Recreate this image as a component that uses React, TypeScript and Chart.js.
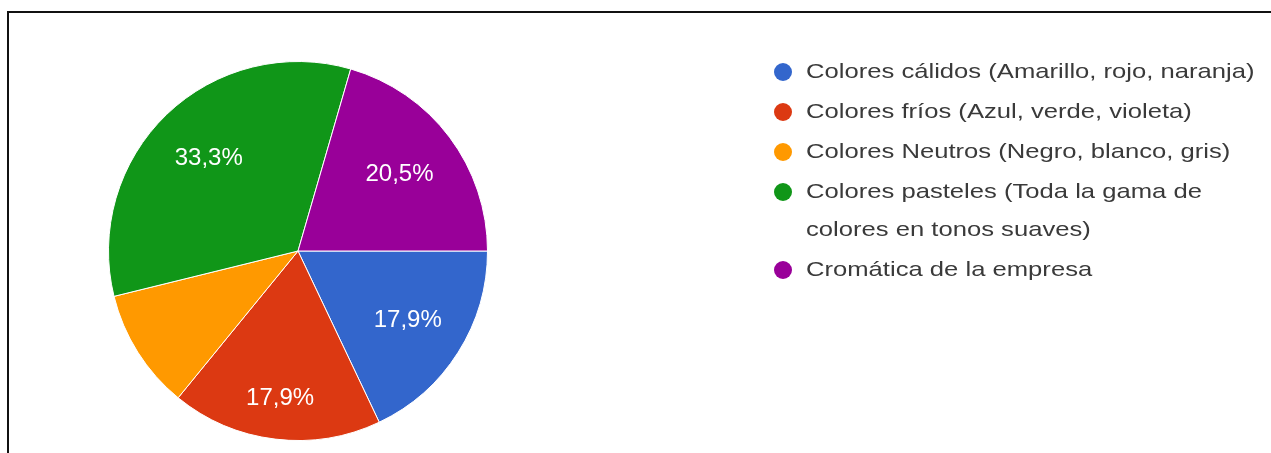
import React, { useEffect, useRef } from 'react';
import { Chart, registerables } from 'chart.js';

Chart.register(...registerables);

const categories = [
  'Colores cálidos (Amarillo, rojo, naranja)',
  'Colores fríos (Azul, verde, violeta)',
  'Colores Neutros (Negro, blanco, gris)',
  'Colores pasteles (Toda la gama de colores en tonos suaves)',
  'Cromática de la empresa',
];
const responses = [7, 7, 4, 13, 8];
const sliceColors = ['#3366cc', '#dc3912', '#ff9900', '#109618', '#990099'];

const FONT = '"Liberation Sans", Arial, sans-serif';
const LEGEND_SX = 1.22;

function pctText(v: number, total: number) {
  return ((v / total) * 100).toFixed(1).replace('.', ',') + '%';
}

function measure(ctx: CanvasRenderingContext2D, s: string) {
  return ctx.measureText(s).width * LEGEND_SX;
}

function drawWide(ctx: CanvasRenderingContext2D, s: string, x: number, y: number) {
  ctx.save();
  ctx.translate(x, y);
  ctx.scale(LEGEND_SX, 1);
  ctx.fillText(s, 0, 0);
  ctx.restore();
}

function wrap(ctx: CanvasRenderingContext2D, text: string, maxWidth: number) {
  const words = text.split(' ');
  const lines: string[] = [];
  let cur = '';
  for (const w of words) {
    const t = cur ? cur + ' ' + w : w;
    if (cur && measure(ctx, t) > maxWidth) {
      lines.push(cur);
      cur = w;
    } else cur = t;
  }
  if (cur) lines.push(cur);
  return lines;
}

const overlayPlugin = {
  id: 'overlay',
  afterDatasetsDraw(chart: any) {
    const ctx: CanvasRenderingContext2D = chart.ctx;
    const meta = chart.getDatasetMeta(0);
    const data: number[] = chart.data.datasets[0].data;
    const total = data.reduce((a, b) => a + b, 0);
    const radial = [0.685, 0.785, 0.68, 0.68, 0.67];
    ctx.save();
    ctx.font = `24px ${FONT}`;
    ctx.fillStyle = '#ffffff';
    ctx.textAlign = 'center';
    ctx.textBaseline = 'middle';
    meta.data.forEach((arc: any, i: number) => {
      const p = data[i] / total;
      if (p < 0.12) return;
      const { x, y, startAngle, endAngle, outerRadius } = arc.getProps(
        ['x', 'y', 'startAngle', 'endAngle', 'outerRadius'],
        true
      );
      const mid = (startAngle + endAngle) / 2;
      const r = outerRadius * radial[i];
      ctx.fillText(pctText(data[i], total), x + Math.cos(mid) * r, y + Math.sin(mid) * r);
    });
    ctx.restore();

    // legend
    ctx.save();
    ctx.font = `21px ${FONT}`;
    ctx.textAlign = 'left';
    ctx.textBaseline = 'middle';
    const labels: string[] = chart.data.labels;
    const colors: string[] = chart.data.datasets[0].backgroundColor;
    let y = 72;
    const lineH = 38;
    const gap = 2;
    labels.forEach((lab, i) => {
      const lines = wrap(ctx, lab, 462);
      ctx.fillStyle = colors[i];
      ctx.beginPath();
      ctx.arc(783, y, 9, 0, Math.PI * 2);
      ctx.fill();
      ctx.fillStyle = '#3a3a3a';
      lines.forEach((ln, k) => {
        drawWide(ctx, ln, 806, y + k * lineH);
      });
      y += lines.length * lineH + gap;
    });
    ctx.restore();
  },
};

export default function App() {
  const ref = useRef<HTMLCanvasElement>(null);
  useEffect(() => {
    if (!ref.current) return;
    const chart = new Chart(ref.current, {
      type: 'pie',
      data: {
        labels: categories,
        datasets: [
          {
            data: responses,
            backgroundColor: sliceColors,
            borderColor: '#ffffff',
            borderWidth: 1,
          },
        ],
      },
      options: {
        responsive: false,
        animation: false,
        rotation: 90,
        layout: { padding: { left: 108, top: 61, right: 783, bottom: 12 } },
        plugins: {
          legend: { display: false },
          tooltip: { enabled: false },
        },
      },
      plugins: [overlayPlugin],
    });
    return () => chart.destroy();
  }, []);

  return (
    <div style={{ position: 'fixed', left: 0, top: 0, width: 1271, height: 453, background: '#fff', overflow: 'hidden' }}>
      <div
        style={{
          position: 'absolute',
          left: 7,
          top: 11,
          width: 1280,
          height: 460,
          borderTop: '2px solid #111',
          borderLeft: '2px solid #111',
        }}
      />
      <canvas ref={ref} width={1271} height={453} style={{ position: 'absolute', left: 0, top: 0 }} />
    </div>
  );
}
